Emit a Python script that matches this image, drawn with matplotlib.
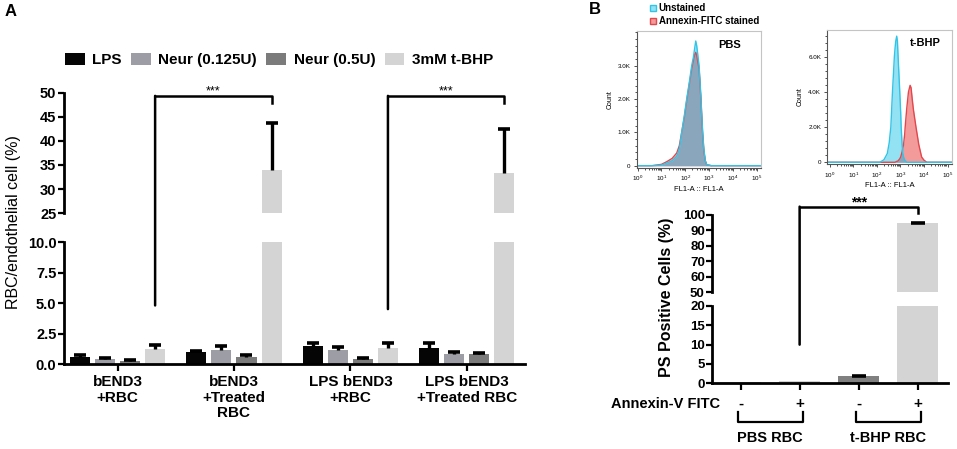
import numpy as np
import matplotlib
matplotlib.use("Agg")
import matplotlib.pyplot as plt
from matplotlib.patches import Patch, ConnectionPatch
from matplotlib.lines import Line2D

plt.rcParams['font.family'] = ['Liberation Sans', 'DejaVu Sans']
plt.rcParams['font.weight'] = 'bold'
plt.rcParams['mathtext.default'] = 'regular'

# ---------------- panel A data ----------------
groups_a = ['bEND3\n+RBC', 'bEND3\n+Treated\nRBC', 'LPS bEND3\n+RBC', 'LPS bEND3\n+Treated RBC']
series_a = ['LPS', 'Neur (0.125U)', 'Neur (0.5U)', '3mM t-BHP']
colors_a = ['#050505', '#9d9da5', '#7b7b7b', '#d4d4d4']
lps = [0.55, 0.95, 1.5, 1.3]
lps_err = [0.15, 0.15, 0.25, 0.45]
neur_low = [0.4, 1.15, 1.15, 0.8]
neur_low_err = [0.07, 0.3, 0.25, 0.15]
neur_high = [0.25, 0.6, 0.4, 0.8]
neur_high_err = [0.05, 0.1, 0.1, 0.1]
tbhp = [1.2, 34.0, 1.3, 33.3]
tbhp_err = [0.35, 9.7, 0.45, 9.3]

# ---------------- panel B data ----------------
# flow cytometry histograms (x = log10 FL1-A, y = count in thousands)
pbs_log = [-0.04, -0.02, 0.6, 1.0, 1.22, 1.45, 1.64, 1.75, 1.85, 1.96, 2.06, 2.17, 2.27, 2.34,
           2.40, 2.44, 2.48, 2.53, 2.58, 2.62, 2.66, 2.70, 2.73, 2.78, 2.84, 2.9, 3.1, 4.0, 5.18]
pbs_unst = [0.0, 0.0, 0.0, 0.02, 0.08, 0.15, 0.28, 0.5, 1.0, 1.5, 2.0, 2.5, 3.0, 3.25,
            3.55, 3.74, 3.6, 3.3, 3.0, 2.5, 2.0, 1.4, 1.0, 0.5, 0.15, 0.03, 0.0, 0.0, 0.0]
pbs_ann = [3.0, 0.0, 0.0, 0.04, 0.12, 0.22, 0.38, 0.6, 1.0, 1.45, 1.95, 2.45, 2.9, 3.15,
           3.35, 3.4, 3.3, 3.1, 2.9, 2.45, 1.95, 1.35, 0.95, 0.45, 0.15, 0.03, 0.0, 0.0, 0.0]

tbhp_log = [-0.1, 1.5, 2.13, 2.3, 2.44, 2.52, 2.59, 2.66, 2.74, 2.77, 2.8, 2.84, 2.87, 2.9, 2.97,
            3.01, 3.03, 3.07, 3.1, 3.13, 3.18, 3.2, 3.27, 3.34, 3.41, 3.45, 3.5, 3.55, 3.66,
            3.78, 3.9, 4.0, 4.12, 5.18]
tbhp_unst = [0.0, 0.0, 0.0, 0.15, 0.5, 1.1, 2.0, 4.0, 6.0, 6.5, 6.9, 7.18, 6.9, 6.0, 4.0,
             2.8, 2.0, 1.0, 0.5, 0.3, 0.12, 0.08, 0.0, 0.0, 0.0, 0.0, 0.0, 0.0, 0.0,
             0.0, 0.0, 0.0, 0.0, 0.0]
tbhp_ann = [0.0, 0.0, 0.0, 0.0, 0.0, 0.0, 0.0, 0.0, 0.0, 0.0, 0.02, 0.05, 0.06, 0.08, 0.2,
            0.3, 0.4, 0.6, 0.8, 1.0, 1.6, 2.0, 3.1, 4.0, 4.38, 4.25, 3.6, 3.0, 2.0,
            1.0, 0.3, 0.12, 0.0, 0.0]

annexin_signs = ['-', '+', '-', '+']
rbc_groups = ['PBS RBC', 't-BHP RBC']
ps_pos = [0.3, 0.5, 2.0, 94.8]
ps_err = [0.0, 0.0, 0.0, 0.3]
colors_b = ['#d8d8d8', '#d2d2d2', '#808080', '#d4d4d4']

fig = plt.figure(figsize=(9.57, 4.49), dpi=100)


def upper_errors(ax, xx, v, e, cap_ms, lw):
    # one-sided (upper) error bars: stem from the bar top plus a cap
    v = np.asarray(v, float)
    top = v + np.asarray(e, float)
    ax.vlines(xx, v, top, color='black', lw=lw, zorder=3)
    ax.plot(xx, top, ls='none', marker='_', ms=cap_ms, mew=2.6, color='black', zorder=3)


# ================= panel A =================
axA_top = fig.add_axes([0.0669, 0.5256, 0.4817, 0.2673])
axA_bot = fig.add_axes([0.0669, 0.1893, 0.4817, 0.2717])
xa = np.arange(len(groups_a))
step, width = 0.215, 0.172
vals = [lps, neur_low, neur_high, tbhp]
errs = [lps_err, neur_low_err, neur_high_err, tbhp_err]
for ax in (axA_top, axA_bot):
    for i in range(4):
        xx = xa + (i - 1.5) * step
        ax.bar(xx, vals[i], width, color=colors_a[i], zorder=2)
        upper_errors(ax, xx, vals[i], errs[i], 9, 2.4)
    ax.set_xlim(-0.46, 3.5)
    for s in ('top', 'right'):
        ax.spines[s].set_visible(False)
    for s in ('left', 'bottom'):
        ax.spines[s].set_linewidth(2)
    ax.tick_params(axis='both', direction='out', length=4, width=1.6, labelsize=10.5, pad=1.5)

axA_top.set_ylim(25, 50)
axA_top.set_yticks([25, 30, 35, 40, 45, 50])
axA_top.spines['bottom'].set_visible(False)
axA_top.set_xticks([])

axA_bot.set_ylim(0, 10)
axA_bot.set_yticks([0, 2.5, 5, 7.5, 10])
axA_bot.set_yticklabels(['0.0', '2.5', '5.0', '7.5', '10.0'])
axA_bot.set_xticks(xa)
axA_bot.set_xticklabels(groups_a, fontsize=11, linespacing=1.15)
axA_bot.tick_params(axis='x', length=5, pad=3)

# significance brackets
for g, low in [(0, 4.8), (2, 4.5)]:
    xl = g + 1.5 * step
    xr = g + 1 + 1.5 * step
    con = ConnectionPatch(xyA=(xl, low), coordsA=axA_bot.transData,
                          xyB=(xl, 49.4), coordsB=axA_top.transData, color='black', lw=1.8)
    fig.add_artist(con)
    axA_top.plot([xl, xr, xr], [49.4, 49.4, 48.0], color='black', lw=1.8, clip_on=False)
    axA_top.text((xl + xr) / 2, 49.6, '***', ha='center', va='baseline', fontsize=9,
                 fontweight='normal')

handles = [Patch(facecolor=c, edgecolor='none') for c in colors_a]
fig.legend(handles, series_a, loc='center', bbox_to_anchor=(279 / 957, 1 - 60 / 449), ncol=4,
           frameon=False, prop={'size': 11, 'weight': 'bold'}, handlelength=1.3,
           handleheight=0.9, handletextpad=0.5, columnspacing=0.6, borderpad=0)

fig.text(14 / 957, 1 - 222 / 449, 'RBC/endothelial cell (%)', rotation=90, ha='center',
         va='center', fontsize=11.5, fontweight='normal')
fig.text(11 / 957, 1 - 12 / 449, 'A', ha='center', va='center', fontsize=12)
fig.text(595 / 957, 1 - 9 / 449, 'B', ha='center', va='center', fontsize=12)

# ================= panel B histograms =================
axP = fig.add_axes([0.6653, 0.6265, 0.1299, 0.3045])
axT = fig.add_axes([0.8645, 0.6347, 0.1300, 0.2985])


def histogram(ax, lg, unst, ann, xlim, ylim, yticks, yminor, title, tx, ty):
    lg = np.array(lg)
    u = np.array(unst)
    a = np.array(ann)
    ax.fill_between(lg, a, color='#f39a9a', lw=0)
    ax.fill_between(lg, u, color='#93e2f4', lw=0)
    ax.fill_between(lg, np.minimum(u, a), color='#8aa6bd', lw=0)
    ax.plot(lg, a, color='#e2474d', lw=1)
    ax.plot(lg, u, color='#31c4e6', lw=1)
    ax.set_xlim(*xlim)
    ax.set_ylim(*ylim)
    ax.set_xticks(range(6))
    ax.set_xticklabels(['$10^{%d}$' % k for k in range(6)], fontsize=4.5, fontweight='normal')
    ax.set_xticks([k + np.log10(m) for k in range(5) for m in range(2, 10)], minor=True)
    ax.set_yticks(yticks)
    ax.set_yticklabels(['0'] + ['%.1fK' % t for t in yticks[1:]], fontsize=4.5,
                       fontweight='normal')
    ax.set_yticks(yminor, minor=True)
    ax.tick_params(which='both', direction='out', width=0.6, color='#333333', pad=2)
    ax.tick_params(which='major', length=2.5)
    ax.tick_params(which='minor', length=1.5)
    for s in ('left', 'bottom'):
        ax.spines[s].set_color('#555555')
        ax.spines[s].set_linewidth(0.8)
    for s in ('top', 'right'):
        ax.spines[s].set_color('#c4c4c4')
        ax.spines[s].set_linewidth(0.8)
    ax.set_xlabel('FL1-A :: FL1-A', fontsize=5.5, fontweight='normal', labelpad=2)
    ax.set_ylabel('Count', fontsize=5, fontweight='normal', labelpad=3)
    ax.text(tx, ty, title, transform=ax.transAxes, ha='center', va='center', fontsize=8)


histogram(axP, pbs_log, pbs_unst, pbs_ann, (-0.04, 5.18), (-0.06, 4.04), [0, 1, 2, 3],
          np.arange(0, 4.01, 0.2), 'PBS', 0.75, 0.90)
histogram(axT, tbhp_log, tbhp_unst, tbhp_ann, (-0.11, 5.18), (-0.1, 7.53), [0, 2, 4, 6],
          np.arange(0, 7.41, 0.4), 't-BHP', 0.785, 0.905)

leg_handles = [Line2D([], [], ls='none', marker='s', ms=4, mfc='#93e2f4', mec='#31c4e6'),
               Line2D([], [], ls='none', marker='s', ms=4, mfc='#f39a9a', mec='#e2474d')]
fig.legend(leg_handles, ['Unstained', 'Annexin-FITC stained'], loc='upper left',
           bbox_to_anchor=(650 / 957, 1 - 3 / 449), frameon=False,
           prop={'size': 7, 'weight': 'bold'}, handlelength=0.6, handletextpad=0.3,
           labelspacing=0.3, borderpad=0, borderaxespad=0)

# ================= panel B bar chart =================
axB_top = fig.add_axes([0.7437, 0.349, 0.2472, 0.1722])
axB_bot = fig.add_axes([0.7437, 0.1463, 0.2472, 0.1722])
xb = np.arange(len(ps_pos))
for ax in (axB_top, axB_bot):
    ax.bar(xb, ps_pos, 0.7, color=colors_b, zorder=2)
    upper_errors(ax, xb[2:], ps_pos[2:], ps_err[2:], 10, 2)
    ax.set_xlim(-0.49, 3.52)
    for s in ('top', 'right'):
        ax.spines[s].set_visible(False)
    for s in ('left', 'bottom'):
        ax.spines[s].set_linewidth(2)
    ax.tick_params(axis='both', direction='out', length=4, width=1.6, labelsize=9.5, pad=1)

axB_top.set_ylim(50, 100)
axB_top.set_yticks([50, 60, 70, 80, 90, 100])
axB_top.spines['bottom'].set_visible(False)
axB_top.set_xticks([])

axB_bot.set_ylim(0, 20)
axB_bot.set_yticks([0, 5, 10, 15, 20])
axB_bot.set_xticks(xb)
axB_bot.set_xticklabels([])
axB_bot.tick_params(axis='x', length=5)

con = ConnectionPatch(xyA=(1, 10), coordsA=axB_bot.transData, xyB=(1, 105.4),
                      coordsB=axB_top.transData, color='black', lw=1.8)
fig.add_artist(con)
axB_top.plot([1, 3, 3], [105.4, 105.4, 101.0], color='black', lw=1.8, clip_on=False)
axB_top.text(2.0, 105.6, '***', ha='center', va='baseline', fontsize=10)

fig.text(666 / 957, 1 - 297 / 449, 'PS Positive Cells (%)', rotation=90, ha='center',
         va='center', fontsize=11.5)

tr = axB_bot.get_xaxis_transform()
for xi, sign in zip(xb, annexin_signs):
    axB_bot.text(xi, -0.27, sign, transform=tr, ha='center', va='center', fontsize=11)
axB_bot.text(-0.35, -0.27, 'Annexin-V FITC', transform=tr, ha='right', va='center',
             fontsize=10.5)
for k, name in enumerate(rbc_groups):
    x0, x1 = 2 * k - 0.05, 2 * k + 1 + 0.05
    axB_bot.plot([x0, x0, x1, x1], [-0.367, -0.497, -0.497, -0.367], transform=tr,
                 color='black', lw=1.6, clip_on=False)
    axB_bot.text(2 * k + 0.5, -0.712, name, transform=tr, ha='center', va='center',
                 fontsize=10.5)

fig.savefig('out.png', dpi=100)
